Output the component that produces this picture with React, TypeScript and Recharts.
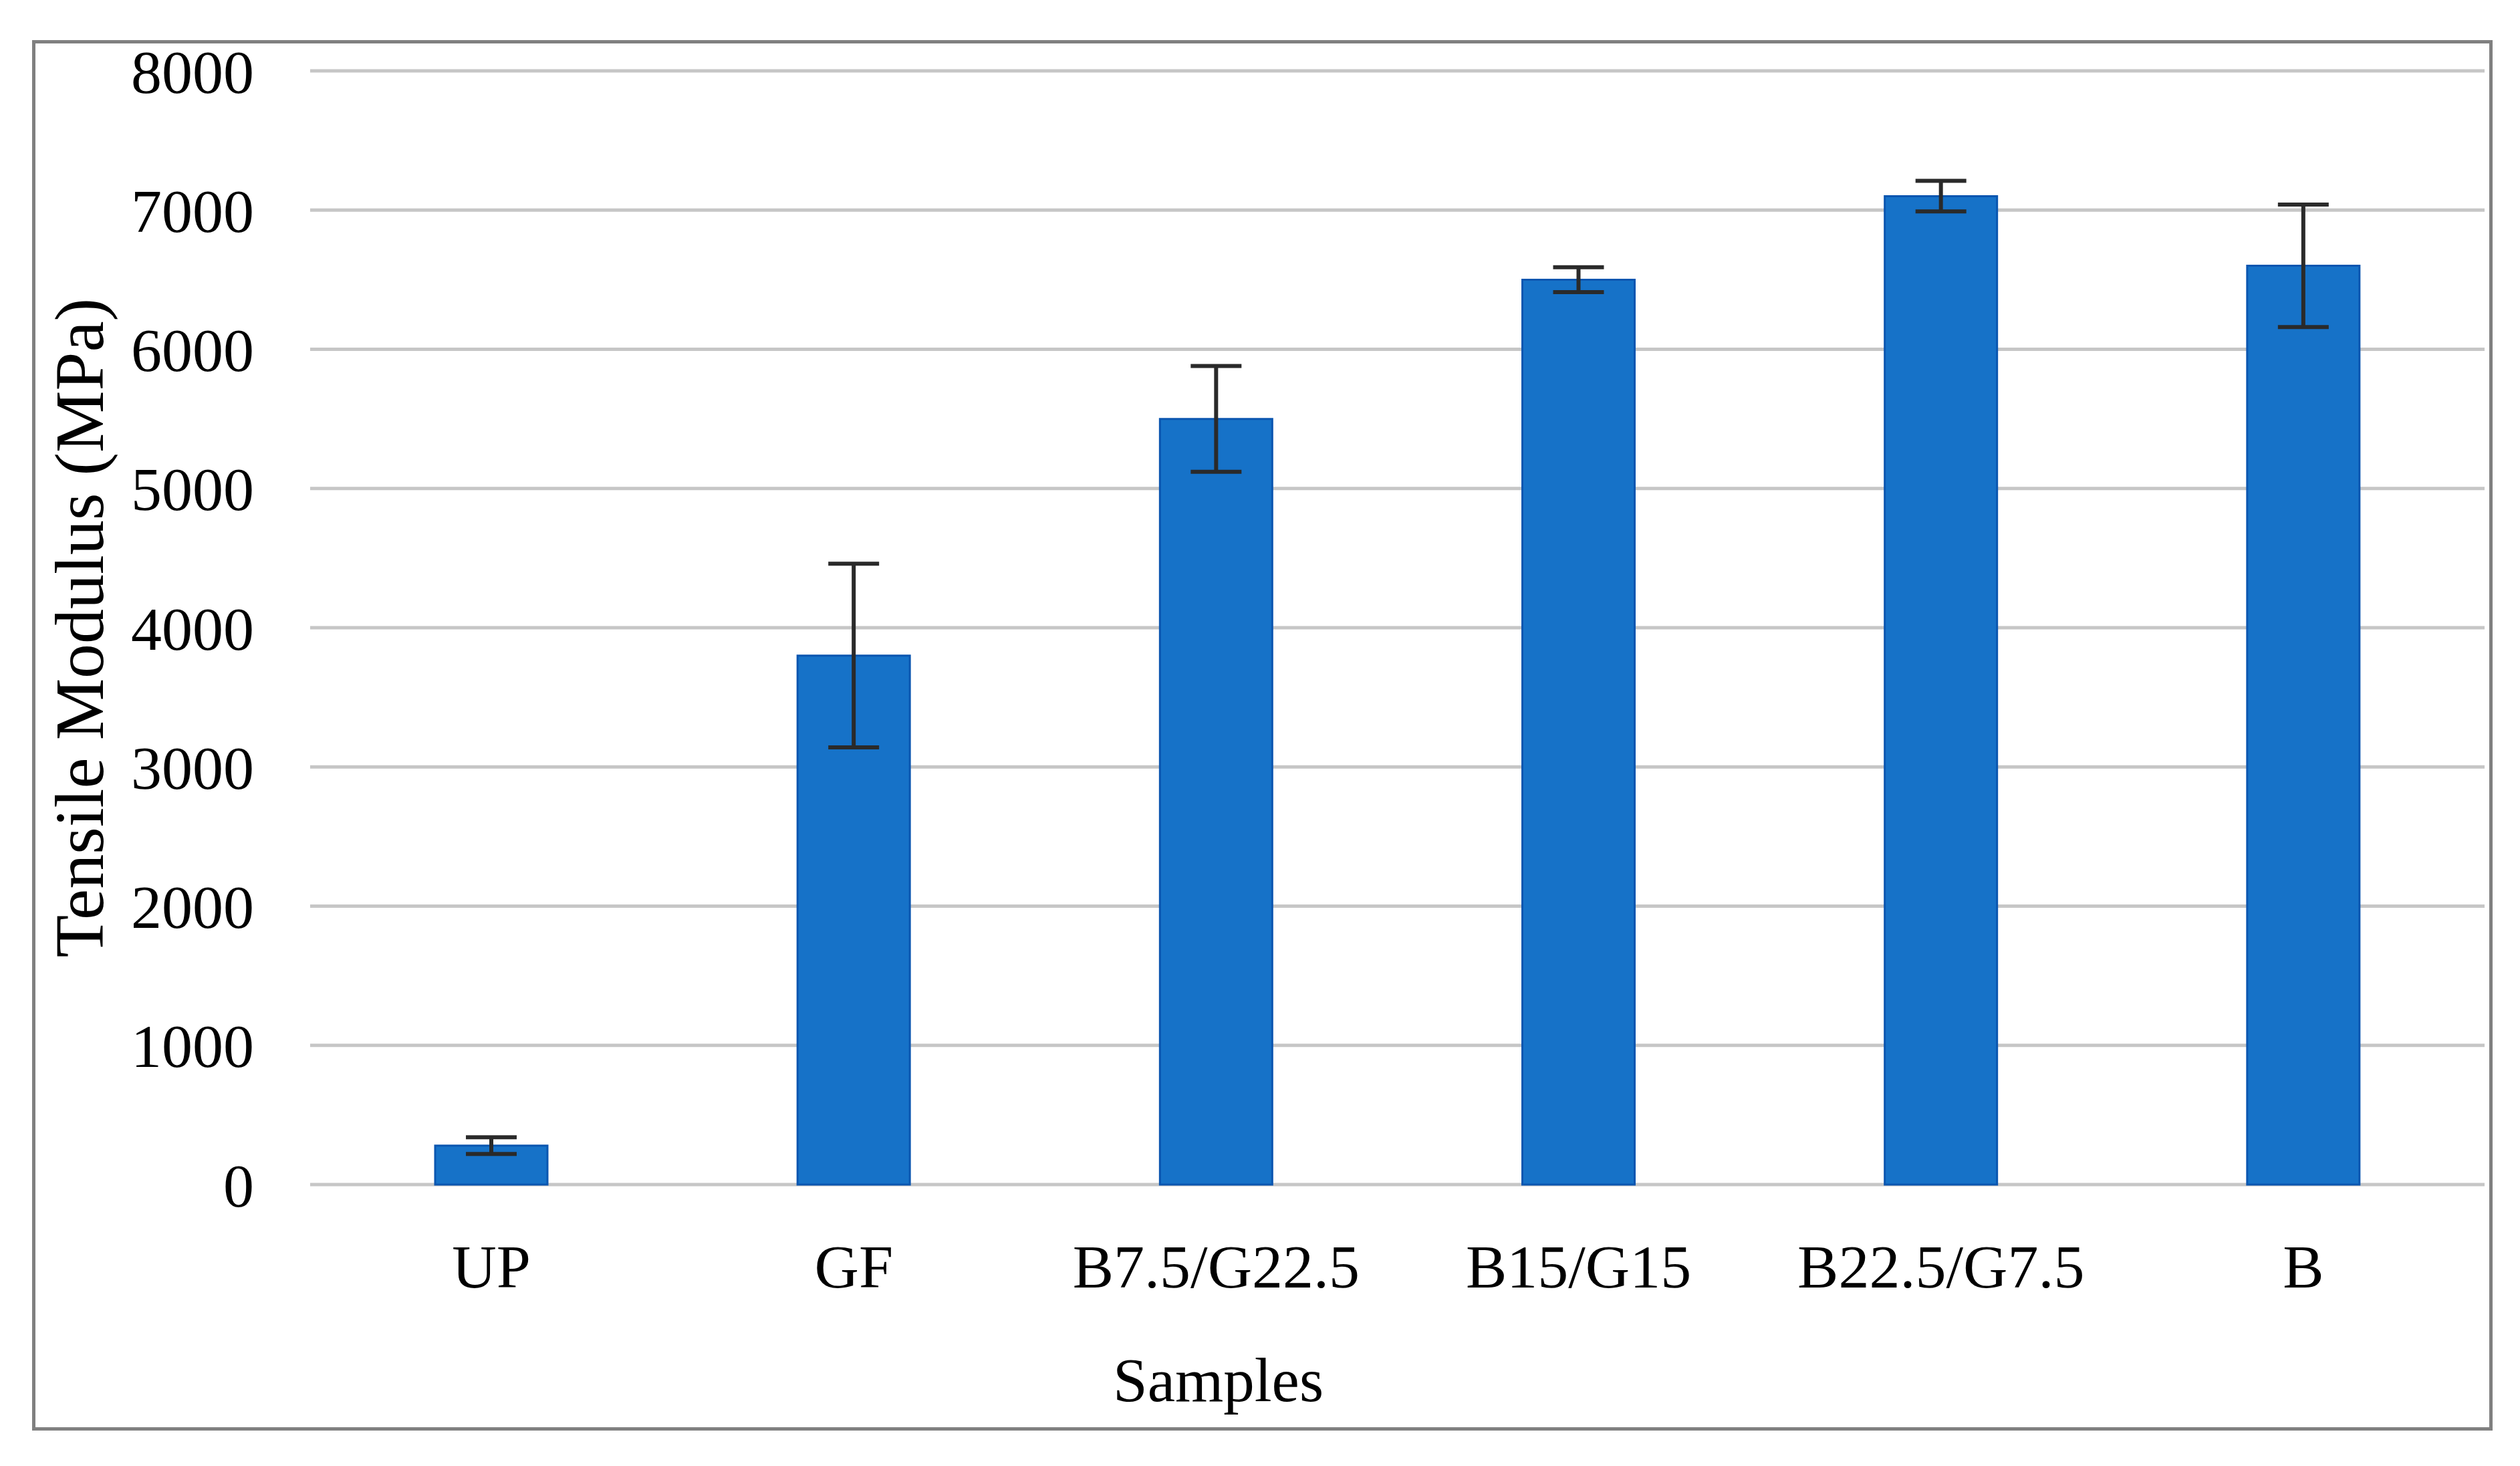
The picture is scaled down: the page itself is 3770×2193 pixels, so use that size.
import { BarChart, Bar, XAxis, YAxis, CartesianGrid, ErrorBar } from "recharts"

const samples = ["UP", "GF", "B7.5/G22.5", "B15/G15", "B22.5/G7.5", "B"]
const modulus = [280, 3800, 5500, 6500, 7100, 6600]
const modulusSd = [60, 660, 380, 90, 110, 440]
const yTicks = [0, 1000, 2000, 3000, 4000, 5000, 6000, 7000, 8000]

const data = samples.map((name, i) => ({
  name,
  value: modulus[i],
  err: modulusSd[i],
}))

const font = "'Liberation Serif', 'Times New Roman', serif"

export default function App() {
  return (
    <div style={{ position: "absolute", left: 0, top: 0, width: 3770, height: 2193, background: "#fff" }}>
      <div
        style={{
          position: "absolute",
          left: 48,
          top: 60,
          width: 3681,
          height: 2080,
          border: "5px solid #808080",
          boxSizing: "border-box",
        }}
      />
      <BarChart
        width={3770}
        height={2193}
        data={data}
        margin={{ top: 106, right: 53, bottom: 0, left: 0 }}
        style={{ position: "absolute", left: 0, top: 0 }}
      >
        <CartesianGrid vertical={false} stroke="#c6c6c6" strokeWidth={5} />
        <XAxis
          dataKey="name"
          height={421}
          axisLine={false}
          tickLine={false}
          tickSize={0}
          tickMargin={89}
          tick={{ fill: "#000", fontSize: 92, fontFamily: font }}
          interval={0}
          label={{
            value: "Samples",
            position: "insideBottom",
            offset: 97,
            dx: -268,
            fill: "#000",
            fontSize: 93,
            fontFamily: font,
          }}
        />
        <YAxis
          width={464}
          domain={[0, 8000]}
          ticks={yTicks}
          axisLine={false}
          tickLine={false}
          tickSize={0}
          tickMargin={84}
          tick={{ fill: "#000", fontSize: 92, fontFamily: font }}
          label={{
            value: "Tensile Modulus (MPa)",
            angle: -90,
            position: "insideLeft",
            offset: 117,
            fill: "#000",
            fontSize: 104,
            fontFamily: font,
            style: { textAnchor: "middle" },
          }}
        />
        <Bar
          dataKey="value"
          barSize={168}
          fill="#1672c8"
          stroke="#0b56b0"
          strokeWidth={3}
          isAnimationActive={false}
        >
          <ErrorBar dataKey="err" width={38} stroke="#2a2a2a" strokeWidth={6} />
        </Bar>
      </BarChart>
    </div>
  )
}
